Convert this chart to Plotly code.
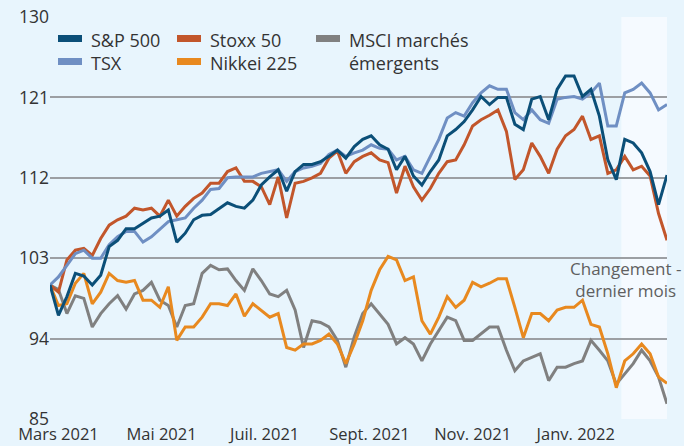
import pandas as pd
import plotly.graph_objects as go

dates = pd.date_range("2021-02-24", periods=74, freq="5D")

sp500 = [100, 96.6, 98.7, 101.3, 101.0, 100.0, 101.1, 104.3, 105.0, 106.3, 106.3, 106.9, 107.5, 107.7, 108.4,
         104.8, 105.8, 107.3, 107.8, 107.9, 108.6, 109.2, 108.8, 108.6, 109.5, 111.2, 112.1, 112.9, 110.5, 112.7,
         113.5, 113.5, 113.8, 114.4, 115.1, 114.2, 115.5, 116.3, 116.7, 115.7, 115.2, 112.9, 114.4, 112.2, 111.2,
         112.7, 114.0, 116.7, 117.4, 118.3, 119.6, 121.1, 120.2, 121.0, 121.0, 118.0, 117.4, 120.8, 121.1, 118.5,
         121.9, 123.4, 123.4, 121.1, 121.9, 118.9, 114.0, 111.8, 116.3, 115.9, 114.8, 112.7, 109.0, 112.3]
tsx = [100, 100.9, 102.2, 103.5, 103.9, 103.0, 103.0, 104.5, 105.4, 106.0, 106.0, 104.8, 105.4, 106.2, 107.1,
       107.3, 107.5, 108.6, 109.5, 110.7, 110.8, 112.0, 112.1, 112.1, 112.1, 112.5, 112.7, 112.9, 111.6, 112.7,
       113.1, 113.3, 113.6, 114.6, 115.1, 114.4, 114.8, 115.1, 115.7, 115.3, 115.2, 114.0, 114.4, 112.9, 112.5,
       114.4, 116.3, 118.7, 119.3, 118.9, 120.4, 121.5, 122.3, 121.9, 121.9, 119.3, 118.5, 119.6, 118.5, 118.1,
       120.8, 121.0, 121.1, 120.8, 121.5, 122.6, 117.8, 117.8, 121.5, 121.9, 122.6, 121.5, 119.6, 120.2]
stoxx50 = [100, 99.2, 102.8, 103.9, 104.1, 103.3, 105.2, 106.7, 107.3, 107.7, 108.6, 108.4, 108.6, 107.7, 109.5,
           107.7, 108.8, 109.7, 110.3, 111.4, 111.4, 112.7, 113.1, 111.6, 111.6, 111.0, 109.0, 112.1, 107.5, 111.4,
           111.6, 112.0, 112.5, 114.2, 115.0, 112.5, 113.8, 114.4, 114.8, 114.0, 113.7, 110.3, 113.3, 111.0, 109.5,
           110.8, 112.5, 113.8, 114.0, 115.7, 117.8, 118.5, 119.0, 119.6, 117.2, 111.8, 112.9, 115.9, 114.4, 112.5,
           115.2, 116.7, 117.4, 118.9, 116.3, 116.7, 112.5, 112.9, 114.4, 112.9, 113.3, 112.2, 108.0, 105.0]
nikkei225 = [100, 97.7, 97.9, 100.2, 101.3, 97.9, 99.2, 101.3, 100.5, 100.3, 100.5, 98.3, 98.3, 97.5, 99.8,
             93.8, 95.3, 95.3, 96.4, 97.9, 97.9, 97.7, 99.0, 96.5, 97.9, 97.2, 96.4, 96.8, 93.0, 92.7,
             93.4, 93.4, 93.8, 94.5, 93.4, 91.2, 93.4, 96.0, 99.4, 101.7, 103.2, 102.8, 100.5, 100.9, 96.0,
             94.5, 96.4, 98.7, 97.5, 98.3, 100.3, 99.8, 100.2, 100.7, 100.7, 97.5, 94.1, 96.8, 96.8, 96.0,
             97.2, 97.5, 97.5, 98.3, 95.6, 95.3, 92.3, 88.5, 91.5, 92.3, 93.4, 92.3, 89.7, 89.0]
msci_em = [100, 99.5, 96.8, 98.8, 98.5, 95.3, 96.8, 97.9, 98.8, 97.3, 99.0, 99.4, 100.3, 98.3, 97.7,
           95.3, 97.7, 97.9, 101.3, 102.2, 101.7, 101.8, 100.5, 99.4, 101.8, 100.5, 99.0, 98.7, 99.4, 97.2,
           93.0, 96.0, 95.8, 95.3, 93.8, 90.8, 94.2, 96.8, 97.9, 96.8, 95.6, 93.4, 94.1, 93.4, 91.5,
           93.4, 94.9, 96.4, 96.0, 93.8, 93.8, 94.5, 95.3, 95.3, 92.7, 90.4, 91.5, 91.9, 92.3, 89.3,
           90.8, 90.8, 91.2, 91.5, 93.8, 92.7, 91.5, 88.9, 90.0, 91.2, 92.7, 91.5, 89.7, 86.7]

series_names = ["S&P 500", "TSX", "Stoxx 50", "Nikkei 225", "MSCI marchés émergents"]
legend_lines = [["S&P 500"], ["TSX"], ["Stoxx 50"], ["Nikkei 225"], ["MSCI marchés", "émergents"]]
series_colors = ["#0b4f78", "#6f8fc3", "#c2562b", "#e8891f", "#808080"]
series_values = [sp500, tsx, stoxx50, nikkei225, msci_em]

y_ticks = [85, 94, 103, 112, 121, 130]
x_tickvals = ["2021-03-01", "2021-05-01", "2021-07-01", "2021-09-01", "2021-11-01", "2022-01-01"]
x_ticktext = ["Mars 2021", "Mai 2021", "Juil. 2021", "Sept. 2021", "Nov. 2021", "Janv. 2022"]
shade_start = "2022-01-28"
note_text = "Changement -<br>dernier mois"

BG = "#e8f5fd"
FONT = "Open Sans"
L, R, T, B = 50, 17, 17, 27
W, H = 684 - L - R, 446 - T - B

fig = go.Figure()
draw_order = [4, 3, 2, 1, 0]
for i in draw_order:
    fig.add_trace(go.Scatter(x=dates, y=series_values[i], mode="lines", name=series_names[i],
                             line=dict(color=series_colors[i], width=3), showlegend=False))

fig.add_shape(type="rect", xref="x", yref="y", x0=shade_start, x1=dates[-1], y0=85, y1=130,
              fillcolor="#f5faff", line_width=0, layer="below")

def px(x):
    return (x - L) / W
def py(y):
    return (446 - B - y) / H

# manual legend (pixel layout)
legend_pos = [(58, 38.5), (58, 61.5), (177, 38.5), (177, 61.5), (316, 38.5)]
for (lx, ly), lines, col in zip(legend_pos, legend_lines, series_colors):
    fig.add_shape(type="rect", xref="paper", yref="paper", x0=px(lx), x1=px(lx + 24),
                  y0=py(ly + 3.5), y1=py(ly - 3.5), fillcolor=col, line_width=0)
    for k, txt in enumerate(lines):
        fig.add_annotation(xref="paper", yref="paper", x=px(lx + 31), y=py(ly + 1.5 + 23 * k),
                           xanchor="left", yanchor="middle", showarrow=False, text=txt,
                           font=dict(family=FONT, size=18, color="#333333"))

fig.add_annotation(xref="paper", yref="paper", x=px(625), y=py(279),
                   xanchor="center", yanchor="middle", showarrow=False, text=note_text,
                   font=dict(family=FONT, size=17, color="#5f5f5f"))

fig.update_layout(
    width=684, height=446,
    margin=dict(l=L, r=R, t=T, b=B, autoexpand=False),
    paper_bgcolor=BG, plot_bgcolor=BG,
    font=dict(family=FONT, size=17, color="#333333"),
    xaxis=dict(range=[dates[0], dates[-1]], tickvals=x_tickvals, ticktext=x_ticktext, automargin=False,
               showgrid=False, zeroline=False, showline=False, ticks="", tickfont=dict(size=16.5),
               ticklabelstandoff=3),
    yaxis=dict(range=[85, 130], tickvals=y_ticks, showgrid=True, gridcolor="#9c9fa3", gridwidth=1.5,
               automargin=False, zeroline=False, showline=False, ticks="", tickfont=dict(size=17.5)),
)

fig.write_html("out.html", config={"displayModeBar": False},
               post_script="document.body.style.margin='0';document.body.style.background='%s';" % BG)
